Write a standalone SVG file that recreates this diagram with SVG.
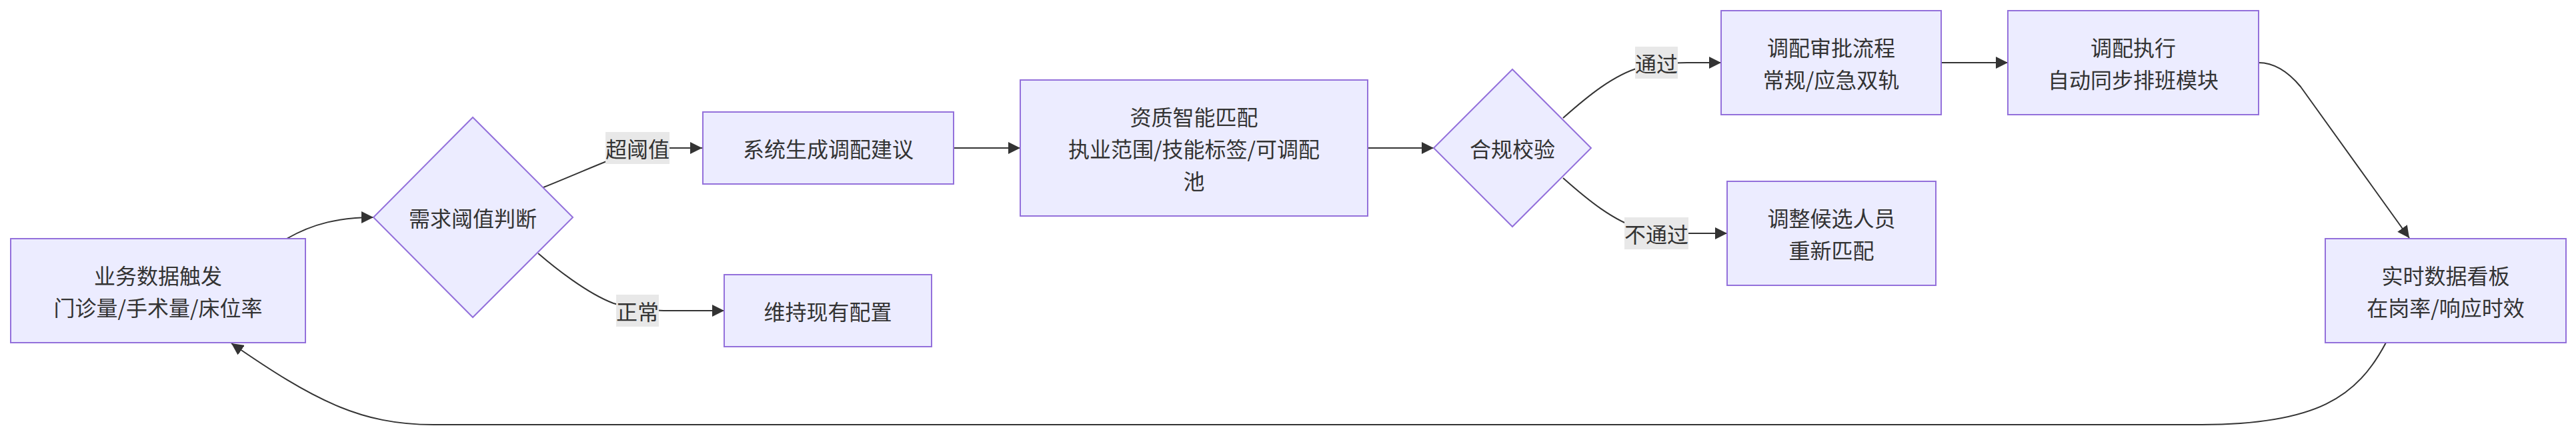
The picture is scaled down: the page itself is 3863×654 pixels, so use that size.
<svg xmlns="http://www.w3.org/2000/svg" width="3863" height="654" viewBox="0 0 3863 654">
<defs>
<style>
.node rect,.node polygon{fill:#ECECFF;stroke:#9370DB;stroke-width:2}
.t{font-family:"Noto Sans CJK SC","Noto Sans",sans-serif;font-size:32px;fill:#333333;text-anchor:middle;dominant-baseline:central}
.edge{fill:none;stroke:#333333;stroke-width:2}
.lbl rect{fill:#e8e8e8;stroke:none}
</style>
<marker id="arr" viewBox="0 0 10 10" refX="10" refY="5" markerUnits="userSpaceOnUse" markerWidth="18" markerHeight="18" orient="auto">
<path d="M0,0 L10,5 L0,10 z" fill="#333333"/>
</marker>
</defs>
<rect width="3863" height="654" fill="#ffffff"/>
<g id="connectors">
<path class="edge" marker-end="url(#arr)" d="M430,358 C470,335 510,326 560,326"/>
<path class="edge" marker-end="url(#arr)" d="M815,281 C860,263 905,243 935,232 C955,225 975,222 995,222 L1053,222"/>
<path class="edge" marker-end="url(#arr)" d="M807,380 C830,400 880,440 920,455 C945,463 970,466 995,466 L1086,466"/>
<path class="edge" marker-end="url(#arr)" d="M1430,222 L1530,222"/>
<path class="edge" marker-end="url(#arr)" d="M2051,222 L2150,222"/>
<path class="edge" marker-end="url(#arr)" d="M2344,177 C2380,145 2420,112 2460,101 C2480,96 2500,94 2530,94 L2581,94"/>
<path class="edge" marker-end="url(#arr)" d="M2344,267 C2380,299 2420,332 2460,343 C2480,348 2500,350 2530,350 L2590,350"/>
<path class="edge" marker-end="url(#arr)" d="M2911,94 L3011,94"/>
<path class="edge" marker-end="url(#arr)" d="M3387,94 Q3420,94 3450,130 L3613,357"/>
<path class="edge" marker-end="url(#arr)" d="M3578,514 C3535,595 3475,637 3300,637 L650,637 C540,637 470,600 347,515"/>
</g>
<g id="label-chaoyuzhi" class="lbl"><rect x="908" y="198" width="96" height="48"/><text class="t" x="956" y="222">超阈值</text></g>
<g id="label-zhengchang" class="lbl"><rect x="924" y="442" width="64" height="48"/><text class="t" x="956" y="466">正常</text></g>
<g id="label-tongguo" class="lbl"><rect x="2452" y="70" width="64" height="48"/><text class="t" x="2484" y="94">通过</text></g>
<g id="label-butongguo" class="lbl"><rect x="2436" y="326" width="96" height="48"/><text class="t" x="2484" y="350">不通过</text></g>
<g id="A" class="node"><rect x="16" y="358" width="442" height="156"/><text class="t" x="237" y="412">业务数据触发</text><text class="t" x="237" y="460">门诊量/手术量/床位率</text></g>
<g id="B" class="node"><polygon points="709,176 859,326 709,476 560,326"/><text class="t" x="709" y="326">需求阈值判断</text></g>
<g id="C" class="node"><rect x="1054" y="168" width="376" height="108"/><text class="t" x="1242" y="222">系统生成调配建议</text></g>
<g id="F" class="node"><rect x="1086" y="412" width="311" height="108"/><text class="t" x="1241.5" y="466">维持现有配置</text></g>
<g id="D" class="node"><rect x="1530" y="120" width="521" height="204"/><text class="t" x="1790.5" y="174">资质智能匹配</text><text class="t" x="1790.5" y="222">执业范围/技能标签/可调配</text><text class="t" x="1790.5" y="270">池</text></g>
<g id="E" class="node"><polygon points="2268,104 2386,222 2268,340 2150,222"/><text class="t" x="2268" y="222">合规校验</text></g>
<g id="G" class="node"><rect x="2581" y="16" width="330" height="156"/><text class="t" x="2746" y="70">调配审批流程</text><text class="t" x="2746" y="118">常规/应急双轨</text></g>
<g id="I" class="node"><rect x="2590" y="272" width="313" height="156"/><text class="t" x="2746.5" y="326">调整候选人员</text><text class="t" x="2746.5" y="374">重新匹配</text></g>
<g id="H" class="node"><rect x="3011" y="16" width="376" height="156"/><text class="t" x="3199" y="70">调配执行</text><text class="t" x="3199" y="118">自动同步排班模块</text></g>
<g id="J" class="node"><rect x="3487" y="358" width="361" height="156"/><text class="t" x="3667.5" y="412">实时数据看板</text><text class="t" x="3667.5" y="460">在岗率/响应时效</text></g>
</svg>
